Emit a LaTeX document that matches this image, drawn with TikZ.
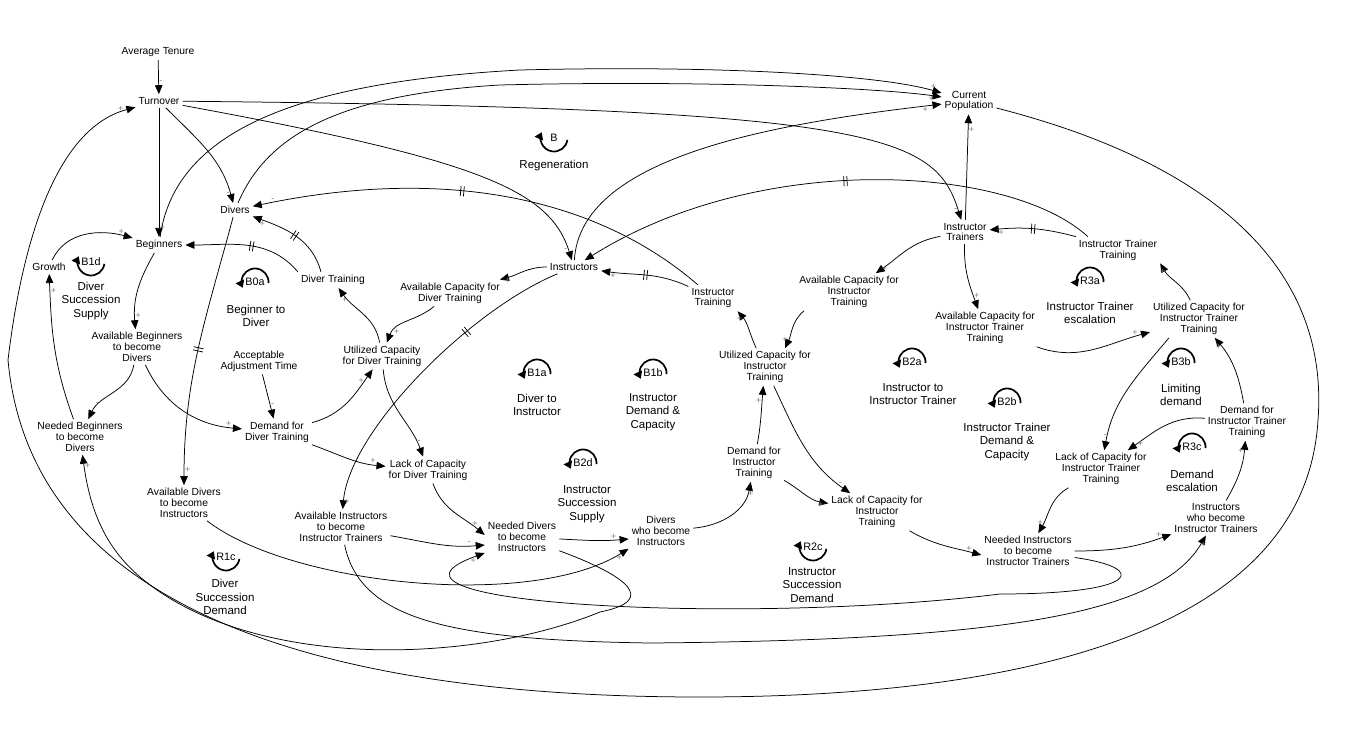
\documentclass[tikz,border=0pt]{standalone}
\usepackage{fontspec}
\setmainfont{Liberation Sans}
\usetikzlibrary{arrows.meta}
\usetikzlibrary{decorations.markings}

\tikzset{
  var/.style={align=center, inner sep=3pt, font=\fontsize{10.3}{10.8}\selectfont},
  link/.style={-{Triangle[length=9pt,width=7.5pt]}, line width=0.75pt},
  pol/.style={text=gray, inner sep=0.5pt, font=\fontsize{9}{9}\selectfont},
  delay/.style={postaction={decorate, decoration={markings,
      mark=at position #1 with {\draw[-, line width=0.75pt] (-1.6pt,-5pt) -- (-1.6pt,5pt) (1.6pt,-5pt) -- (1.6pt,5pt);}}}},
  loopid/.style={inner sep=0pt, font=\fontsize{10.8}{10.8}\selectfont},
  loopcap/.style={align=center, inner sep=0pt, font=\fontsize{11.5}{13.5}\selectfont},
  looparc/.style={line width=1.7pt, -{Triangle[length=7pt,width=9pt]}}
}

\begin{document}
\begin{tikzpicture}[x=1pt, y=1pt]
                \useasboundingbox (0,0) rectangle (1353,-730);
                \node[var] (AvgTenure) at (158,-52) {Average Tenure};
                \node[var] (Turnover) at (159,-101) {Turnover};
                \node[var] (CurPop) at (969,-101) {Current\\Population};
                \node[var] (Divers) at (235,-210) {Divers};
                \node[var] (Beginners) at (159,-245) {Beginners};
                \node[var] (Growth) at (49,-267) {Growth};
                \node[var] (Instructors) at (574,-267) {Instructors};
                \node[var] (InstrTrainers) at (965,-232) {Instructor\\Trainers};
                \node[var] (ITTraining) at (1118,-250) {Instructor Trainer\\Training};
                \node[var] (DiverTraining) at (333,-280) {Diver Training};
                \node[var] (AvailCapDT) at (450,-293) {Available Capacity for\\Diver Training};
                \node[var] (InstrTraining) at (713,-298) {Instructor\\Training};
                \node[var] (AvailCapIT) at (849,-292) {Available Capacity for\\Instructor\\Training};
                \node[var] (AvailCapITT) at (985,-328) {Available Capacity for\\Instructor Trainer\\Training};
                \node[var] (UtilCapITT) at (1199,-319) {Utilized Capacity for\\Instructor Trainer\\Training};
                \node[var] (AvailBeg) at (137,-347) {Available Beginners\\to become\\Divers};
                \node[var] (AccAdj) at (259,-361) {Acceptable\\Adjustment Time};
                \node[var] (UtilCapDT) at (382,-356) {Utilized Capacity\\for Diver Training};
                \node[var] (UtilCapIT) at (765,-367) {Utilized Capacity for\\Instructor\\Training};
                \node[var] (NeedBeg) at (80,-437) {Needed Beginners\\to become\\Divers};
                \node[var] (DemandDT) at (277,-432) {Demand for\\Diver Training};
                \node[var] (LackCapDT) at (428,-470) {Lack of Capacity\\for Diver Training};
                \node[var] (DemandIT) at (754,-463) {Demand for\\Instructor\\Training};
                \node[var] (LackCapIT) at (877,-512) {Lack of Capacity for\\Instructor\\Training};
                \node[var] (DemandITT) at (1247,-422) {Demand for\\Instructor Trainer\\Training};
                \node[var] (LackCapITT) at (1101,-469) {Lack of Capacity for\\Instructor Trainer\\Training};
                \node[var] (AvailDiv) at (184,-503) {Available Divers\\to become\\Instructors};
                \node[var] (AvailInstr) at (341,-527) {Available Instructors\\to become\\Instructor Trainers};
                \node[var] (NeedDiv) at (522,-537) {Needed Divers\\to become\\Instructors};
                \node[var] (DivWho) at (661,-531) {Divers\\who become\\Instructors};
                \node[var] (NeedInstr) at (1028,-551) {Needed Instructors\\to become\\Instructor Trainers};
                \node[var] (InstrWho) at (1216,-518) {Instructors\\who become\\Instructor Trainers};

                \node[loopid] (LB) at (554,-138) {B};
                \node[loopcap] (LBcap) at (554,-166) {Regeneration};
                \node[loopid] (LB1d) at (91,-262) {B1d};
                \node[loopcap] (LB1dcap) at (91,-301) {Diver\\Succession\\Supply};
                \node[loopid] (LB0a) at (255,-282) {B0a};
                \node[loopcap] (LB0acap) at (256,-316) {Beginner to\\Diver};
                \node[loopid] (LB1a) at (537,-373) {B1a};
                \node[loopcap] (LB1acap) at (537,-405) {Diver to\\Instructor};
                \node[loopid] (LB1b) at (653,-373) {B1b};
                \node[loopcap] (LB1bcap) at (653,-412) {Instructor\\Demand \&\\Capacity};
                \node[loopid] (LB2d) at (583,-463) {B2d};
                \node[loopcap] (LB2dcap) at (587,-504) {Instructor\\Succession\\Supply};
                \node[loopid] (LR1c) at (226,-557) {R1c};
                \node[loopcap] (LR1ccap) at (225,-597) {Diver\\Succession\\Demand};
                \node[loopid] (LR2c) at (813,-547) {R2c};
                \node[loopcap] (LR2ccap) at (812,-585) {Instructor\\Succession\\Demand};
                \node[loopid] (LB2a) at (912,-362) {B2a};
                \node[loopcap] (LB2acap) at (913,-394) {Instructor to\\Instructor Trainer};
                \node[loopid] (LB2b) at (1007,-402) {B2b};
                \node[loopcap] (LB2bcap) at (1007,-442) {Instructor Trainer\\Demand \&\\Capacity};
                \node[loopid] (LR3a) at (1090,-281) {R3a};
                \node[loopcap] (LR3acap) at (1090,-313) {Instructor Trainer\\escalation};
                \node[loopid] (LB3b) at (1181,-362) {B3b};
                \node[loopcap] (LB3bcap) at (1181,-395) {Limiting\\demand};
                \node[loopid] (LR3c) at (1192,-447) {R3c};
                \node[loopcap] (LR3ccap) at (1192,-481) {Demand\\escalation};

                \draw[looparc] ([shift={(-8:13.5pt)}]LB.center) arc[start angle=-8, end angle=-205, radius=13.5pt];
                \draw[looparc] ([shift={(-8:13.5pt)}]LB1d.center) arc[start angle=-8, end angle=-205, radius=13.5pt];
                \draw[looparc] ([shift={(-8:13.5pt)}]LR1c.center) arc[start angle=-8, end angle=-205, radius=13.5pt];
                \draw[looparc] ([shift={(-8:13.5pt)}]LR2c.center) arc[start angle=-8, end angle=-205, radius=13.5pt];
                \draw[looparc] ([shift={(-5:13.5pt)}]LB0a.center) arc[start angle=-5, end angle=205, radius=13.5pt];
                \draw[looparc] ([shift={(-5:13.5pt)}]LB1a.center) arc[start angle=-5, end angle=205, radius=13.5pt];
                \draw[looparc] ([shift={(-5:13.5pt)}]LB1b.center) arc[start angle=-5, end angle=205, radius=13.5pt];
                \draw[looparc] ([shift={(-5:13.5pt)}]LB2d.center) arc[start angle=-5, end angle=205, radius=13.5pt];
                \draw[looparc] ([shift={(-5:13.5pt)}]LB2a.center) arc[start angle=-5, end angle=205, radius=13.5pt];
                \draw[looparc] ([shift={(-5:13.5pt)}]LB2b.center) arc[start angle=-5, end angle=205, radius=13.5pt];
                \draw[looparc] ([shift={(-5:13.5pt)}]LR3a.center) arc[start angle=-5, end angle=205, radius=13.5pt];
                \draw[looparc] ([shift={(-5:13.5pt)}]LB3b.center) arc[start angle=-5, end angle=205, radius=13.5pt];
                \draw[looparc] ([shift={(-5:13.5pt)}]LR3c.center) arc[start angle=-5, end angle=205, radius=13.5pt];

                \draw[link] (AvgTenure) -- node[pol, pos=.65, right] {-} (Turnover);
                \draw[link] (Turnover) -- node[pol, pos=.93, right] {+} (Beginners);
                \draw[link] (Turnover) to[out=-45, in=105] node[pol, pos=.93, left] {-} (Divers);
                \draw[link] (Turnover) .. controls (480,-160) and (550,-190) .. (Instructors) node[pol, pos=.95, left] {-};
                \draw[link] (Turnover) .. controls (880,-108) and (935,-135) .. (InstrTrainers) node[pol, pos=.96, left] {-};
                \draw[link] (CurPop) .. controls (1200,-160) and (1330,-260) .. (1318,-420)
                    .. controls (1305,-640) and (1000,-697) .. (700,-697)
                    .. controls (300,-697) and (30,-600) .. (8,-360)
                    .. controls (20,-260) and (50,-130) .. (Turnover) node[pol, pos=.94, above] {+};
                \draw[link] (Growth) to[out=65, in=165] node[pol, pos=.88, above] {+} (Beginners);
                \draw[link] (NeedBeg) to[out=110, in=-88] node[pol, pos=.9, right] {+} (Growth);
                \draw[link] (Beginners) to[out=-120, in=95] node[pol, pos=.85, right] {+} (AvailBeg);
                \draw[link] (Beginners) .. controls (175,-130) and (300,-82) .. (520,-70)
                    .. controls (720,-65) and (880,-75) .. (CurPop) node[pol, pos=.96, above] {+};
                \draw[link] (Divers) .. controls (265,-140) and (330,-95) .. (500,-85)
                    .. controls (700,-80) and (880,-88) .. (CurPop) node[pol, pos=.95, below] {+};
                \draw[link] (Instructors) .. controls (580,-160) and (760,-125) .. (CurPop) node[pol, pos=.97, below] {+};
                \draw[link] (InstrTrainers) -- node[pol, pos=.85, right] {+} (CurPop);
                \draw[link, delay=.5] (Divers) to[out=-105, in=90] node[pol, pos=.95, right] {+} (AvailDiv);
                \draw[link, delay=.5] ([xshift=-12pt]DiverTraining.north) to[out=105, in=-20] node[pol, pos=.9, below] {+} (Divers);
                \draw[link, delay=.45] (DiverTraining.north west) to[out=130, in=0] node[pol, pos=.9, below] {-} (Beginners);
                \draw[link, delay=.55] (InstrTraining) .. controls (600,-200) and (450,-165) .. (Divers) node[pol, pos=.97, above right] {-};
                \draw[link, delay=.5] (InstrTraining) to[out=155, in=-8] node[pol, pos=.88, below] {+} (Instructors);

                \draw[link] (AvailBeg) to[out=-100, in=65] node[pol, pos=.75, left] {-} (NeedBeg);
                \draw[link] (AvailBeg) to[out=-65, in=175] node[pol, pos=.9, above] {+} (DemandDT);
                \draw[link] (AccAdj) -- node[pol, pos=.7, right] {-} (DemandDT);
                \draw[link] (DemandDT) to[out=15, in=-125] node[pol, pos=.85, left] {+} (UtilCapDT);
                \draw[link] (DemandDT) to[out=-20, in=175] node[pol, pos=.85, above] {+} (LackCapDT);
                \draw[link] (UtilCapDT) to[out=-85, in=110] node[pol, pos=.85, right] {-} (LackCapDT);
                \draw[link] (UtilCapDT) to[out=100, in=-55] node[pol, pos=.8, left] {+} (DiverTraining);
                \draw[link] (AvailCapDT) to[out=-140, in=70] node[pol, pos=.8, right] {+} (UtilCapDT);
                \draw[link] (Instructors) to[out=180, in=15] node[pol, pos=.85, below] {+} (AvailCapDT);
                \draw[link, delay=.33] (Instructors) .. controls (470,-310) and (350,-430) .. (AvailInstr) node[pol, pos=.97, right] {+};

                \draw[link] (UtilCapIT) to[out=115, in=-50] node[pol, pos=.8, left] {+} (InstrTraining.south east);
                \draw[link] ([xshift=8pt]AvailCapIT.south west) to[out=-140, in=65] node[pol, pos=.8, left] {+} ([xshift=20pt]UtilCapIT.north);
                \draw[link] (InstrTrainers) to[out=-170, in=35] node[pol, pos=.92, right] {+} (AvailCapIT);
                \draw[link] (InstrTrainers) to[out=-92, in=110] node[pol, pos=.8, right] {+} (AvailCapITT);
                \draw[link, delay=.5] (ITTraining.north west) to[out=165, in=5] node[pol, pos=.88, below] {+} (InstrTrainers);
                \draw[link, delay=.48] ([xshift=12pt]ITTraining.north west) .. controls (1010,-165) and (760,-150) .. (Instructors) node[pol, pos=.97, right] {-};

                \draw[link] (AvailCapITT) to[out=-20, in=195] node[pol, pos=.88, above] {+} (UtilCapITT);
                \draw[link] (UtilCapITT) to[out=115, in=-60] node[pol, pos=.8, left] {+} (ITTraining.south east);
                \draw[link] ([xshift=-30pt]UtilCapITT.south) to[out=-130, in=80] node[pol, pos=.9, left] {-} (LackCapITT);
                \draw[link] (DemandITT) to[out=175, in=35] node[pol, pos=.88, right] {+} (LackCapITT);
                \draw[link] (DemandITT) to[out=100, in=-50] node[pol, pos=.85, left] {+} (UtilCapITT);
                \draw[link] (InstrWho) to[out=60, in=-95] node[pol, pos=.85, left] {+} (DemandITT);
                \draw[link] (LackCapITT) to[out=-150, in=60] node[pol, pos=.8, left] {+} (NeedInstr);
                \draw[link] (NeedInstr) to[out=0, in=200] node[pol, pos=.88, above] {+} (InstrWho);
                \draw[link] (AvailInstr) .. controls (360,-620) and (450,-640) .. (650,-643)
                    .. controls (1000,-640) and (1160,-615) .. (InstrWho) node[pol, pos=.96, right] {+};

                \draw[link] (LackCapDT) to[out=-70, in=140] node[pol, pos=.85, above] {+} ([yshift=2pt]NeedDiv.west);
                \draw[link] (AvailInstr) to[out=-10, in=185] node[pol, pos=.85, above] {-} ([yshift=-8pt]NeedDiv.west);
                \draw[link] (NeedInstr) .. controls (1150,-568) and (1140,-594) .. (1000,-594)
                    .. controls (750,-625) and (340,-605) .. ([yshift=-16pt]NeedDiv.west) node[pol, pos=.97, below] {+};
                \draw[link] (NeedDiv) .. controls (625,-575) and (660,-600) .. (600,-612)
                    .. controls (470,-665) and (250,-670) .. (140,-577)
                    .. controls (105,-547) and (90,-510) .. (NeedBeg) node[pol, pos=.93, right] {+};
                \draw[link] (NeedDiv) to[out=-3, in=185] node[pol, pos=.8, above] {+} ([yshift=-8pt]DivWho.west);
                \draw[link] (AvailDiv) .. controls (290,-585) and (530,-610) .. (DivWho.south west) node[pol, pos=.97, below] {+};
                \draw[link] (DivWho) to[out=5, in=-100] node[pol, pos=.85, right] {+} (DemandIT);
                \draw[link] (DemandIT) to[out=80, in=-95] node[pol, pos=.75, left] {+} (UtilCapIT);
                \draw[link] (DemandIT) to[out=-30, in=170] node[pol, pos=.85, below] {+} (LackCapIT);
                \draw[link] (UtilCapIT) to[out=-65, in=145] node[pol, pos=.9, right] {-} (LackCapIT);
                \draw[link] (LackCapIT) to[out=-30, in=165] node[pol, pos=.85, above] {+} ([yshift=-4pt]NeedInstr.west);
            \end{tikzpicture}
\end{document}
